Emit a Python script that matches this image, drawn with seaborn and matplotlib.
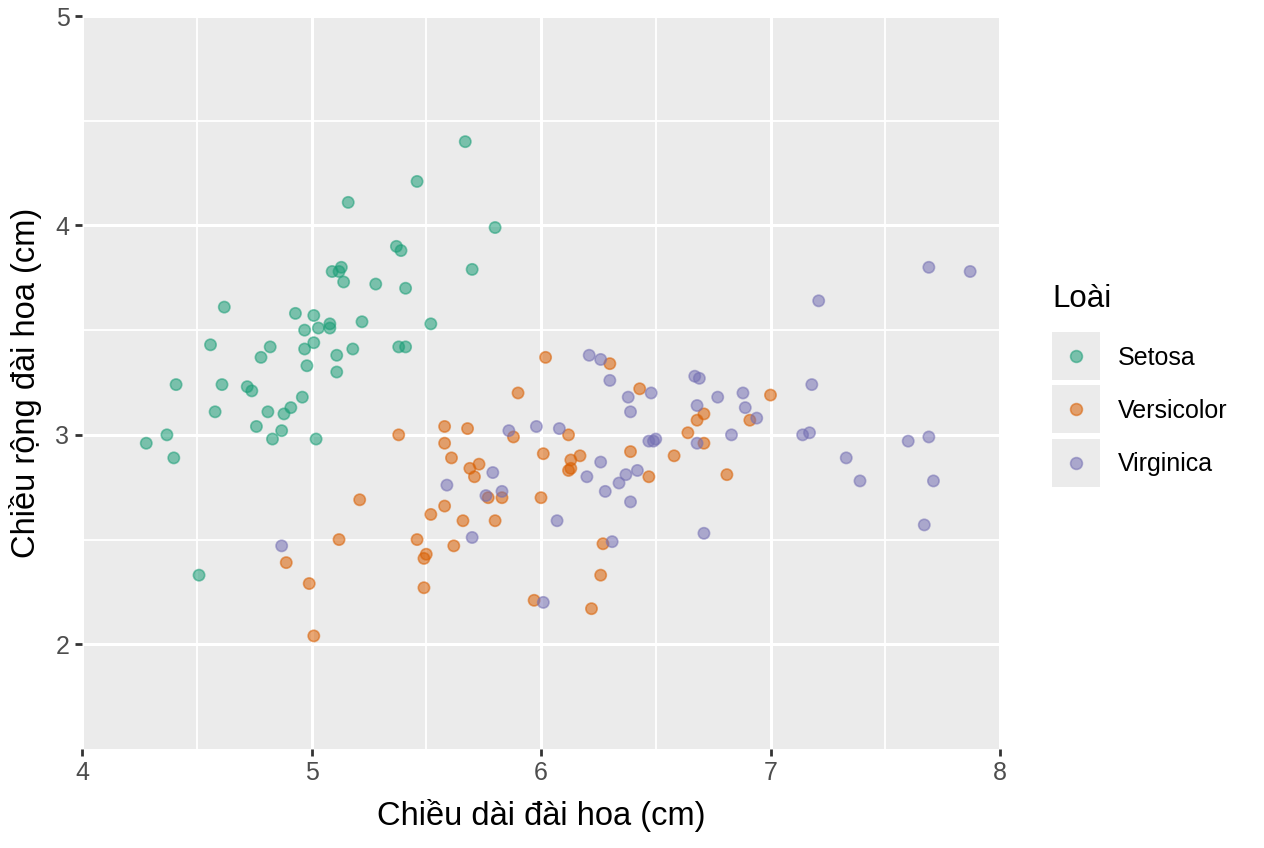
import numpy as np
import pandas as pd
import matplotlib
matplotlib.use("Agg")
import matplotlib.pyplot as plt
import seaborn as sns
from matplotlib.lines import Line2D
from matplotlib.patches import Rectangle
from matplotlib.transforms import IdentityTransform

setosa_len = [5.67, 5.46, 5.16, 5.80, 5.37, 5.39, 5.09, 5.12, 5.13, 5.14,
              5.28, 5.41, 4.62, 4.93, 5.01, 4.97, 5.03, 5.08, 5.08, 5.22,
              4.56, 4.82, 4.78, 4.97, 5.01, 5.18, 5.11, 4.98, 5.11, 5.38,
              5.41, 4.41, 4.61, 4.72, 4.74, 4.96, 4.58, 4.81, 4.91, 4.88,
              4.76, 4.87, 4.37, 4.28, 4.83, 5.02, 4.40, 4.51, 5.70, 5.52]
setosa_wid = [4.40, 4.21, 4.11, 3.99, 3.90, 3.88, 3.78, 3.78, 3.80, 3.73,
              3.72, 3.70, 3.61, 3.58, 3.57, 3.50, 3.51, 3.53, 3.51, 3.54,
              3.43, 3.42, 3.37, 3.41, 3.44, 3.41, 3.38, 3.33, 3.30, 3.42,
              3.42, 3.24, 3.24, 3.23, 3.21, 3.18, 3.11, 3.11, 3.13, 3.10,
              3.04, 3.02, 3.00, 2.96, 2.98, 2.98, 2.89, 2.33, 3.79, 3.53]

versicolor_len = [5.21, 5.12, 4.89, 4.99, 5.01, 5.38, 6.02, 6.30, 5.90, 5.58,
                  5.68, 5.88, 6.12, 5.58, 5.61, 6.01, 6.17, 6.13, 6.12, 6.13,
                  5.73, 5.69, 5.71, 5.77, 5.83, 6.00, 5.58, 5.52, 5.66, 5.80,
                  5.46, 5.62, 5.50, 5.49, 6.27, 6.26, 5.49, 5.97, 6.22, 6.43,
                  7.00, 6.71, 6.68, 6.91, 6.64, 6.71, 6.39, 6.58, 6.47, 6.81]
versicolor_wid = [2.69, 2.50, 2.39, 2.29, 2.04, 3.00, 3.37, 3.34, 3.20, 3.04,
                  3.03, 2.99, 3.00, 2.96, 2.89, 2.91, 2.90, 2.88, 2.83, 2.84,
                  2.86, 2.84, 2.80, 2.70, 2.70, 2.70, 2.66, 2.62, 2.59, 2.59,
                  2.50, 2.47, 2.43, 2.41, 2.48, 2.33, 2.27, 2.21, 2.17, 3.22,
                  3.19, 3.10, 3.07, 3.07, 3.01, 2.96, 2.92, 2.90, 2.80, 2.81]

virginica_len = [4.87, 6.21, 6.26, 6.30, 5.86, 5.98, 6.08, 6.26, 5.79, 6.20,
                 6.34, 5.59, 5.83, 5.76, 6.28, 6.07, 5.70, 6.31, 6.01, 6.48,
                 6.38, 6.39, 6.67, 6.69, 6.77, 6.88, 6.89, 6.68, 6.94, 6.83,
                 6.47, 6.50, 6.49, 6.68, 6.42, 6.37, 6.39, 6.71, 7.21, 7.69,
                 7.87, 7.18, 7.14, 7.17, 7.33, 7.39, 7.60, 7.69, 7.71, 7.67]
virginica_wid = [2.47, 3.38, 3.36, 3.26, 3.02, 3.04, 3.03, 2.87, 2.82, 2.80,
                 2.77, 2.76, 2.73, 2.71, 2.73, 2.59, 2.51, 2.49, 2.20, 3.20,
                 3.18, 3.11, 3.28, 3.27, 3.18, 3.20, 3.13, 3.14, 3.08, 3.00,
                 2.97, 2.98, 2.97, 2.96, 2.83, 2.81, 2.68, 2.53, 3.64, 3.80,
                 3.78, 3.24, 3.00, 3.01, 2.89, 2.78, 2.97, 2.99, 2.78, 2.57]

species = ["Setosa", "Versicolor", "Virginica"]
colors = ["#1B9E77", "#D95F02", "#7570B3"]

df = pd.DataFrame({
    "len": setosa_len + versicolor_len + virginica_len,
    "wid": setosa_wid + versicolor_wid + virginica_wid,
    "Loài": [species[0]] * len(setosa_len) + [species[1]] * len(versicolor_len)
            + [species[2]] * len(virginica_len),
})

plt.rcParams["font.family"] = ["Liberation Sans", "DejaVu Sans"]

W, H = 1264, 848
fig = plt.figure(figsize=(W / 100, H / 100), dpi=100)
ax = fig.add_axes([82 / W, 1 - 749 / H, 918 / W, 733 / H])
ax.set_facecolor("#EBEBEB")

sns.scatterplot(data=df, x="len", y="wid", hue="Loài", palette=colors,
                hue_order=species, s=66, alpha=0.55, edgecolor="face",
                linewidth=1.2, legend=False, ax=ax, zorder=3)

ax.set_xlim(4, 8)
ax.set_ylim(1.5, 5)
ax.set_xticks([4, 5, 6, 7, 8])
ax.set_yticks([2, 3, 4, 5])
ax.set_xticks([4.5, 5.5, 6.5, 7.5], minor=True)
ax.set_yticks([2.5, 3.5, 4.5], minor=True)
ax.grid(which="major", color="white", linewidth=2.2, zorder=1)
ax.grid(which="minor", color="white", linewidth=1.3, zorder=1)
ax.set_axisbelow(True)
for s in ax.spines.values():
    s.set_visible(False)
ax.tick_params(which="major", length=5, width=2, color="#333333",
               labelsize=18, labelcolor="#4D4D4D", pad=4)
ax.tick_params(which="minor", length=0)

ax.set_xlabel("Chiều dài đài hoa (cm)", fontsize=23.5, labelpad=10)
ax.set_ylabel("Chiều rộng đài hoa (cm)", fontsize=23.5, labelpad=10)

handles = [Line2D([], [], marker="o", ls="", markersize=8.5,
                  markerfacecolor=c, markeredgecolor=c, markeredgewidth=1.2,
                  alpha=0.55) for c in colors]
leg = fig.legend(handles=handles, labels=species, title="Loài",
                 loc="upper left", bbox_to_anchor=(1052 / W, 1 - 284 / H),
                 frameon=False, fontsize=18, title_fontsize=22.5,
                 handlelength=1.92, handleheight=0.7, handletextpad=0.72,
                 labelspacing=1.17, borderpad=0, borderaxespad=0,
                 alignment="left")
leg._legend_box.sep = 23
leg.set_zorder(5)

# grey key backgrounds like ggplot
fig.canvas.draw()
r = fig.canvas.get_renderer()
for h in leg.legend_handles:
    bb = h.get_window_extent(r)
    cx, cy = (bb.x0 + bb.x1) / 2, (bb.y0 + bb.y1) / 2
    fig.add_artist(Rectangle((cx - 24, cy - 24), 48, 48, transform=IdentityTransform(),
                             facecolor="#EBEBEB", edgecolor="none", zorder=2))

fig.savefig("out.png", dpi=100, facecolor="white")
